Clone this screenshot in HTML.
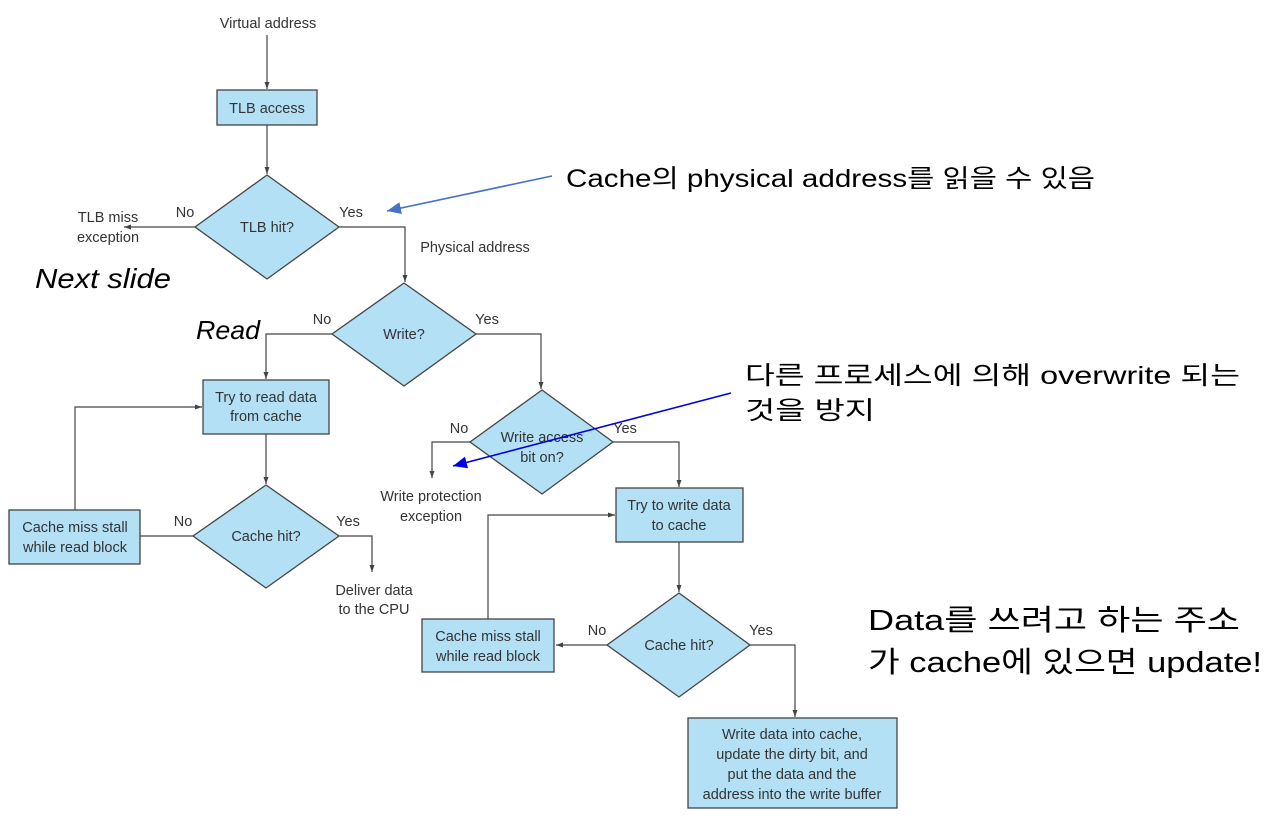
<!DOCTYPE html>
<html><head><meta charset="utf-8"><style>
html,body{margin:0;padding:0;background:#fff;}
svg{display:block;}
.t{font-family:"Liberation Sans",Arial,sans-serif;font-size:14.5px;fill:#333;}
.k{font-family:"Liberation Sans","Noto Sans CJK KR",sans-serif;fill:#000;}
.b{fill:#b3e0f5;stroke:#444;stroke-width:1.3;}
.l{fill:none;stroke:#444;stroke-width:1.2;}
</style></head><body>
<svg width="1278" height="816" viewBox="0 0 1278 816" xmlns="http://www.w3.org/2000/svg">
<defs>
<marker id="a" markerWidth="8" markerHeight="8" refX="7" refY="4" orient="auto" markerUnits="userSpaceOnUse"><path d="M0,1.5 L7,4 L0,6.5z" fill="#444"/></marker>
<marker id="bb" markerWidth="16" markerHeight="12" refX="14" refY="6" orient="auto" markerUnits="userSpaceOnUse"><path d="M0,0 L14,6 L0,12z" fill="#4472c4"/></marker>
<marker id="bl" markerWidth="16" markerHeight="12" refX="14" refY="6" orient="auto" markerUnits="userSpaceOnUse"><path d="M0,0 L14,6 L0,12z" fill="#0000e0"/></marker>
</defs>

<!-- connectors -->
<path class="l" d="M267,35 V89" marker-end="url(#a)"/>
<path class="l" d="M267,125 V174" marker-end="url(#a)"/>
<path class="l" d="M195,227 H124" marker-end="url(#a)"/>
<path class="l" d="M339,227 H405 V282" marker-end="url(#a)"/>
<path class="l" d="M332,334 H266 V379" marker-end="url(#a)"/>
<path class="l" d="M476,334 H541 V389" marker-end="url(#a)"/>
<path class="l" d="M266,434 V484" marker-end="url(#a)"/>
<path class="l" d="M193,536 H118" marker-end="url(#a)"/>
<path class="l" d="M75,510 V407 H202" marker-end="url(#a)"/>
<path class="l" d="M339,536 H372 V572" marker-end="url(#a)"/>
<path class="l" d="M470,442 H432 V478" marker-end="url(#a)"/>
<path class="l" d="M613,442 H679 V487" marker-end="url(#a)"/>
<path class="l" d="M679,542 V592" marker-end="url(#a)"/>
<path class="l" d="M607,645 H556" marker-end="url(#a)"/>
<path class="l" d="M488,619 V515 H615" marker-end="url(#a)"/>
<path class="l" d="M750,645 H795 V717" marker-end="url(#a)"/>

<!-- shapes -->
<rect class="b" x="217" y="90" width="100" height="35"/>
<polygon class="b" points="267,175 339,227 267,279 195,227"/>
<polygon class="b" points="404,283 476,334 404,386 332,334"/>
<rect class="b" x="203" y="380" width="126" height="54"/>
<polygon class="b" points="266,485 339,536 266,588 193,536"/>
<rect class="b" x="9" y="510" width="131" height="54"/>
<polygon class="b" points="542,390 613,442 542,494 470,442"/>
<rect class="b" x="616" y="488" width="127" height="54"/>
<polygon class="b" points="679,593 750,645 679,697 607,645"/>
<rect class="b" x="422" y="619" width="132" height="53"/>
<rect class="b" x="688" y="718" width="209" height="90"/>

<!-- diagram text -->
<g class="t" text-anchor="middle">
<text x="268" y="28">Virtual address</text>
<text x="267" y="113">TLB access</text>
<text x="267" y="232">TLB hit?</text>
<text x="108" y="222">TLB miss</text>
<text x="108" y="242">exception</text>
<text x="185" y="217">No</text>
<text x="351" y="217">Yes</text>
<text x="475" y="252">Physical address</text>
<text x="404" y="339">Write?</text>
<text x="322" y="324">No</text>
<text x="487" y="324">Yes</text>
<text x="266" y="402">Try to read data</text>
<text x="266" y="421">from cache</text>
<text x="266" y="541">Cache hit?</text>
<text x="183" y="526">No</text>
<text x="348" y="526">Yes</text>
<text x="75" y="532">Cache miss stall</text>
<text x="75" y="552">while read block</text>
<text x="374" y="595">Deliver data</text>
<text x="374" y="614">to the CPU</text>
<text x="542" y="442">Write access</text>
<text x="542" y="462">bit on?</text>
<text x="459" y="433">No</text>
<text x="625" y="433">Yes</text>
<text x="431" y="501">Write protection</text>
<text x="431" y="521">exception</text>
<text x="679" y="510">Try to write data</text>
<text x="679" y="530">to cache</text>
<text x="679" y="650">Cache hit?</text>
<text x="597" y="635">No</text>
<text x="761" y="635">Yes</text>
<text x="488" y="641">Cache miss stall</text>
<text x="488" y="661">while read block</text>
<text x="792" y="739">Write data into cache,</text>
<text x="792" y="759">update the dirty bit, and</text>
<text x="792" y="779">put the data and the</text>
<text x="792" y="799">address into the write buffer</text>
</g>

<!-- annotations -->
<text class="k" x="35" y="288" font-size="28" font-style="italic" textLength="136" lengthAdjust="spacingAndGlyphs">Next slide</text>
<text class="k" x="196" y="339" font-size="26" font-style="italic" textLength="64" lengthAdjust="spacingAndGlyphs">Read</text>
<text class="k" x="566" y="187" font-size="25" textLength="529" lengthAdjust="spacingAndGlyphs">Cache의 physical address를 읽을 수 있음</text>
<text class="k" x="745" y="384" font-size="25" textLength="495" lengthAdjust="spacingAndGlyphs">다른 프로세스에 의해 overwrite 되는</text>
<text class="k" x="745" y="419" font-size="25" textLength="130" lengthAdjust="spacingAndGlyphs">것을 방지</text>
<text class="k" x="868" y="630" font-size="29" textLength="372" lengthAdjust="spacingAndGlyphs">Data를 쓰려고 하는 주소</text>
<text class="k" x="868" y="672" font-size="29" textLength="394" lengthAdjust="spacingAndGlyphs">가 cache에 있으면 update!</text>

<line x1="552" y1="176" x2="387" y2="211" stroke="#4472c4" stroke-width="1.6" marker-end="url(#bb)"/>
<line x1="731" y1="393" x2="453" y2="466" stroke="#0000e0" stroke-width="1.6" marker-end="url(#bl)"/>
</svg>
</body></html>
